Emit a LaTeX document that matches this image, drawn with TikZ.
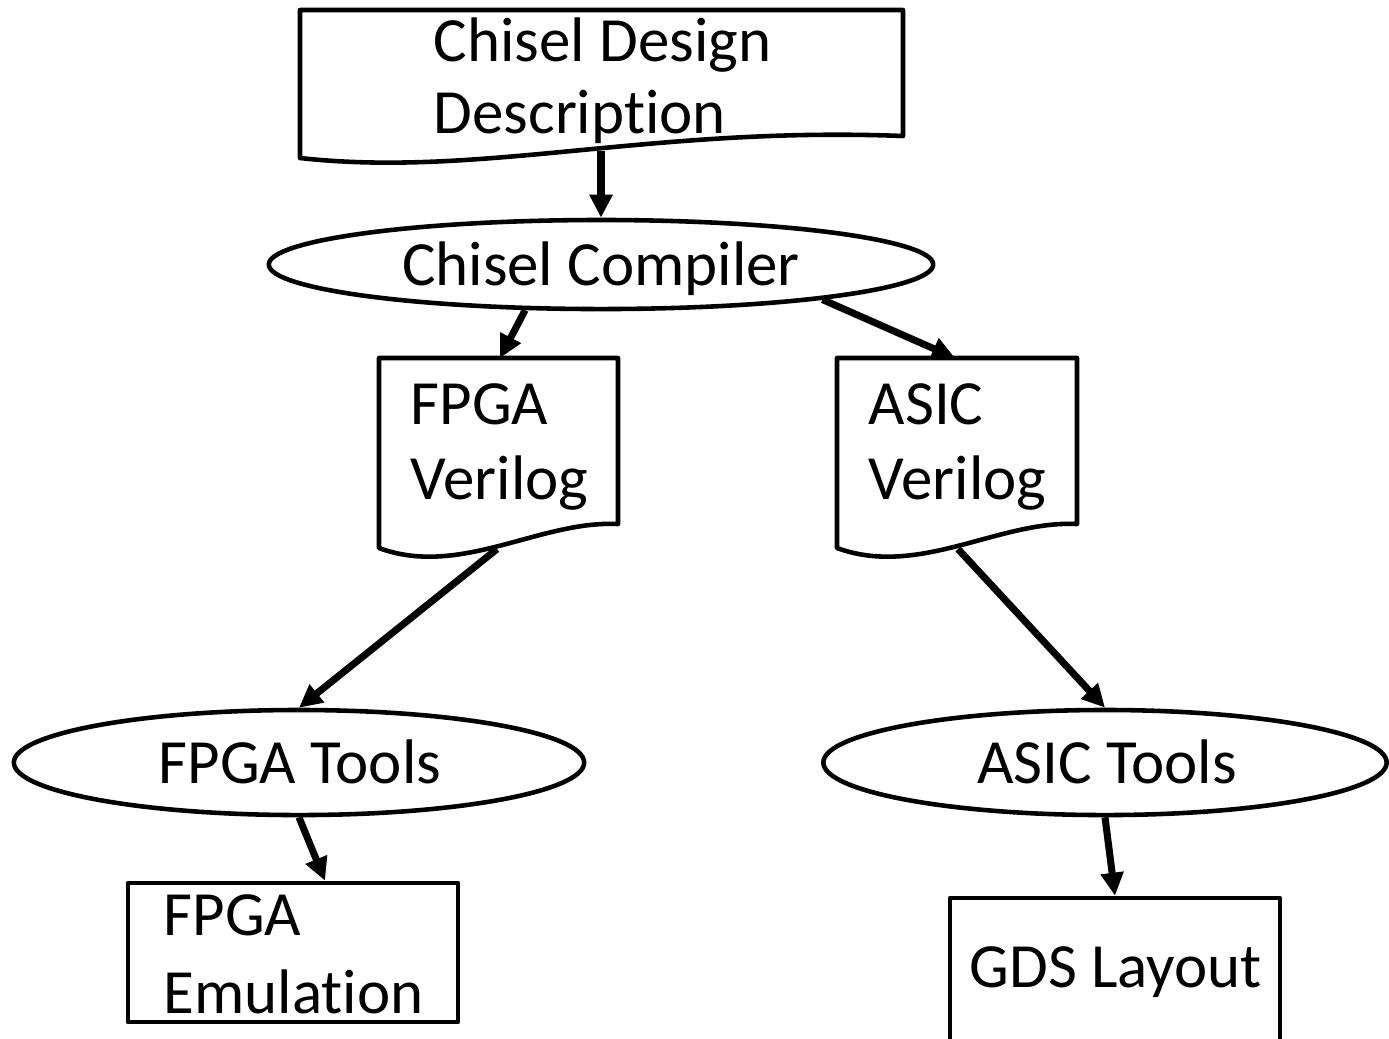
\documentclass[tikz,border=0pt]{standalone}
\usepackage{fontspec}
\setmainfont{Carlito}[Ligatures=NoCommon]
\usetikzlibrary{shapes.geometric,arrows.meta,calc}
\tikzset{
  border/.style={line width=1.3pt, line join=round},
  ellip/.style={draw, ellipse, border, inner sep=0pt},
  boxnode/.style={draw, rectangle, border, inner sep=0pt},
  txt/.style={inner sep=0pt, font=\fontsize{17.9pt}{21pt}\selectfont},
  conn/.style={line width=2pt, -{Triangle[length=0.23cm,width=0.22cm]}},
}
\begin{document}
\begin{tikzpicture}[x=0.01cm, y=-0.01cm]
\clip (0,0) rectangle (1389,1038);
\fill[white] (0,0) rectangle (1389,1038);

% Document: Chisel Design Description
\draw[border] (300,10) -- (903,10) -- (903,136)
  .. controls (650,126) and (480,178) .. (300,158) -- cycle;
\node[txt, anchor=base west] (d1a) at (433,61) {Chisel Design};
\node[txt, anchor=base west] (d1b) at (433,133) {Description};
\coordinate (d1bot) at (601,151);

% Chisel Compiler
\node[ellip, minimum width=6.64cm, minimum height=0.89cm] (comp) at (601,264.5) {};
\node[txt, anchor=base] (compt) at (601,285) {Chisel Compiler};

% FPGA Verilog document
\draw[border] (379,358) -- (618,358) -- (618,524)
  .. controls (540,520) and (460,578) .. (379,548) -- cycle;
\node[txt, anchor=base west] (fva) at (410,424) {FPGA};
\node[txt, anchor=base west] (fvb) at (410,499) {Verilog};
\coordinate (fvtop) at (500,358);
\coordinate (fvbot) at (497,549);

% ASIC Verilog document
\draw[border] (837,358) -- (1077,358) -- (1077,524)
  .. controls (999,520) and (919,578) .. (837,548) -- cycle;
\node[txt, anchor=base west] (ava) at (868,424) {ASIC};
\node[txt, anchor=base west] (avb) at (868,499) {Verilog};
\coordinate (avtop) at (955,358);
\coordinate (avbot) at (958,549);

% Tools ellipses
\node[ellip, minimum width=5.70cm, minimum height=1.05cm] (ft) at (299,762.5) {};
\node[txt, anchor=base] (ftt) at (300,783) {FPGA Tools};
\node[ellip, minimum width=5.63cm, minimum height=1.05cm] (at) at (1105,762.5) {};
\node[txt, anchor=base] (att) at (1107,783) {ASIC Tools};

% Outputs
\node[boxnode, minimum width=3.30cm, minimum height=1.39cm] (fe) at (293,952.5) {};
\node[txt, anchor=base west] (fea) at (163,935) {FPGA};
\node[txt, anchor=base west] (feb) at (163,1013) {Emulation};
\node[boxnode, minimum width=3.30cm, minimum height=1.56cm] (gds) at (1115,976) {};
\node[txt, anchor=base] (gdst) at (1116,987) {GDS Layout};

% Connectors
\draw[conn] (d1bot) -- (comp.north);
\draw[conn] (comp.211) -- (fvtop);
\draw[conn] (comp.-9) -- (avtop);
\draw[conn] (fvbot) -- (ft.north);
\draw[conn] (avbot) -- (at.north);
\draw[conn] (ft.south) -- ($(fe.north)+(32,0)$);
\draw[conn] (at.south) -- (gds.north);
\end{tikzpicture}
\end{document}
